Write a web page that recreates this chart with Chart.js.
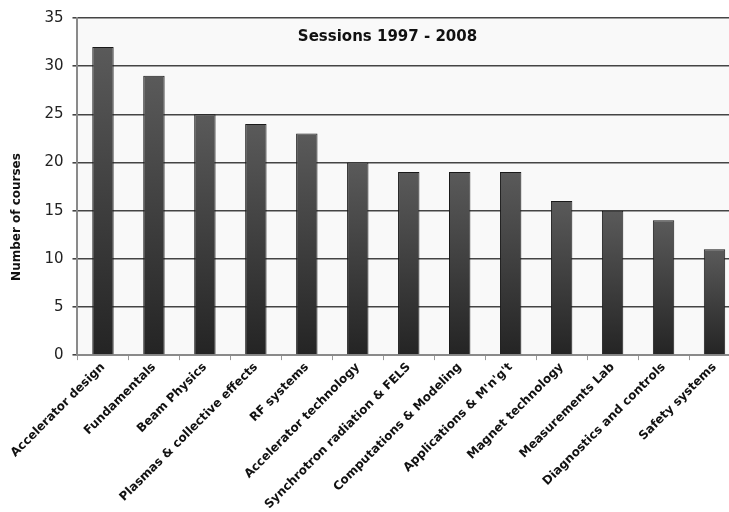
<!DOCTYPE html>
<html>
<head>
<meta charset="utf-8">
<script src="https://cdn.jsdelivr.net/npm/chart.js@4"></script>
<style>
  html, body { margin: 0; padding: 0; background: #ffffff; overflow: hidden; }
  #wrap { position: relative; width: 740px; height: 512px; }
</style>
</head>
<body>
<div id="wrap"><canvas id="c"></canvas></div>
<script>
const categories = [
  "Accelerator design", "Fundamentals", "Beam Physics", "Plasmas & collective effects",
  "RF systems", "Accelerator technology", "Synchrotron radiation & FELS",
  "Computations & Modeling", "Applications & M'n'g't", "Magnet technology",
  "Measurements Lab", "Diagnostics and controls", "Safety systems"
];
const courses = [32, 29, 25, 24, 23, 20, 19, 19, 19, 16, 15, 14, 11];
const yMin = 0, yMax = 35, yStep = 5;
const chartTitle = "Sessions 1997 - 2008";
const yAxisTitle = "Number of courses";

const FONT = "'DejaVu Sans', Verdana, sans-serif";

const bgPlugin = {
  id: 'bgPlugin',
  beforeDraw(chart) {
    const a = chart.chartArea; if (!a) return;
    const ctx = chart.ctx;
    ctx.save();
    ctx.fillStyle = '#f9f9f9';
    ctx.fillRect(a.left, a.top, a.right - a.left, a.bottom - a.top);
    ctx.restore();
  }
};
const textPlugin = {
  id: 'textPlugin',
  afterDatasetsDraw(chart) {
    const a = chart.chartArea; if (!a) return;
    const ctx = chart.ctx;
    ctx.save();
    ctx.font = "bold 15px " + FONT;
    ctx.fillStyle = '#111';
    ctx.textAlign = 'center';
    ctx.textBaseline = 'middle';
    ctx.fillText(chartTitle, a.left + 310, a.top + 19);
    // y-axis title, placed lower than the plot centre as in the reference
    ctx.font = "bold 12px " + FONT;
    ctx.translate(17, a.top + 199);
    ctx.rotate(-Math.PI / 2);
    ctx.fillText(yAxisTitle, 0, 0);
    ctx.restore();
  }
};

function barGradient(context) {
  const chart = context.chart;
  const y = chart.scales && chart.scales.y;
  if (!y || !chart.chartArea || context.raw === undefined) return '#444';
  const top = y.getPixelForValue(context.raw);
  const bottom = y.getPixelForValue(0);
  const g = chart.ctx.createLinearGradient(0, top, 0, bottom);
  g.addColorStop(0, '#5a5a5a');
  g.addColorStop(1, '#242424');
  return g;
}

new Chart(document.getElementById('c'), {
  type: 'bar',
  data: {
    labels: categories,
    datasets: [{
      data: courses,
      backgroundColor: barGradient,
      borderColor: '#1a1a1a',
      borderWidth: 1,
      categoryPercentage: 1.0,
      barPercentage: 0.42
    }]
  },
  options: {
    responsive: true,
    maintainAspectRatio: false,
    animation: false,
    layout: { padding: { top: 2, right: 0, left: 8, bottom: 0 } },
    plugins: { legend: { display: false }, tooltip: { enabled: false }, title: { display: false } },
    scales: {
      x: {
        offset: true,
        grid: { display: true, drawOnChartArea: false, offset: true, color: '#999', tickLength: 5, lineWidth: 1 },
        border: { color: '#8a8a8a', width: 2 },
        ticks: {
          font: { family: FONT, size: 12, weight: 'bold' },
          color: '#111',
          minRotation: 45, maxRotation: 45,
          padding: 0,
          autoSkip: false
        }
      },
      y: {
        min: yMin, max: yMax,
        grid: { color: '#454545', lineWidth: 1.6, tickLength: 5, drawTicks: true },
        border: { color: '#8a8a8a', width: 2 },
        ticks: {
          stepSize: yStep,
          font: { family: FONT, size: 15 },
          color: '#222',
          padding: 9
        },
        title: {
          display: true, text: yAxisTitle,
          font: { family: FONT, size: 12, weight: 'bold' },
          color: 'rgba(0,0,0,0)',
          padding: { top: 0, bottom: 13 }
        }
      }
    }
  },
  plugins: [bgPlugin, textPlugin]
});
</script>
</body>
</html>
